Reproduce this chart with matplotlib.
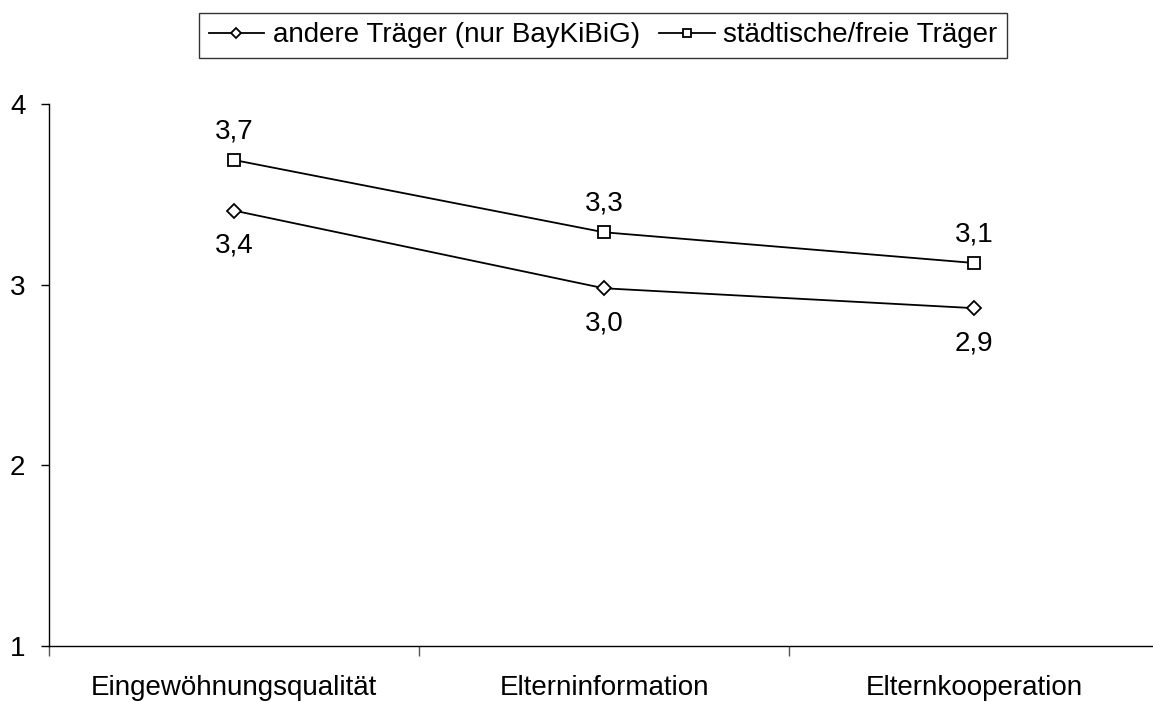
import matplotlib
matplotlib.use("Agg")
import matplotlib.pyplot as plt

categories = ["Eingewöhnungsqualität", "Elterninformation", "Elternkooperation"]
andere = [3.41, 2.98, 2.87]
staedt = [3.69, 3.29, 3.12]
andere_labels = ["3,4", "3,0", "2,9"]
staedt_labels = ["3,7", "3,3", "3,1"]
yticks = [1, 2, 3, 4]

plt.rcParams['font.family'] = ['Liberation Sans', 'DejaVu Sans']

W, H = 1153, 702
FS = 20
fig = plt.figure(figsize=(W/100, H/100), dpi=100)
left = 49 / W
right_px = 1159
ax = fig.add_axes([left, (H-646)/H, (right_px-49)/W, (646-104)/H])

x = [0, 1, 2]
l1, = ax.plot(x, andere, color='black', lw=1.3, marker='D', markersize=7,
              markerfacecolor='white', markeredgecolor='black', markeredgewidth=1.3,
              label='andere Träger (nur BayKiBiG)')
l2, = ax.plot(x, staedt, color='black', lw=1.3, marker='s', markersize=8,
              markerfacecolor='white', markeredgecolor='black', markeredgewidth=1.3,
              label='städtische/freie Träger')

for xi, v, t in zip(x, staedt, staedt_labels):
    ax.annotate(t, (xi, v), xytext=(0, 11), textcoords='offset points',
                ha='center', va='bottom', fontsize=FS)
for xi, v, t in zip(x, andere, andere_labels):
    ax.annotate(t, (xi, v), xytext=(0, -16), textcoords='offset points',
                ha='center', va='top', fontsize=FS)

ax.set_xlim(-0.5, 2.5)
ax.set_ylim(1, 4)
ax.set_yticks(yticks)
ax.set_yticklabels([str(v) for v in yticks], fontsize=FS)
ax.set_xticks([-0.5, 0.5, 1.5, 2.5])
ax.set_xticklabels([])
ax.set_xticks(x, minor=True)
ax.set_xticklabels(categories, minor=True, fontsize=FS)
ax.tick_params(axis='x', which='minor', length=0, pad=21)
ax.tick_params(axis='x', which='major', length=7, width=1, color='#555555', direction='out')
ax.tick_params(axis='y', length=6, width=1, direction='out', pad=11)
for s in ['top', 'right']:
    ax.spines[s].set_visible(False)
for s in ['left', 'bottom']:
    ax.spines[s].set_linewidth(1)

leg = fig.legend(handles=[l1, l2], loc='center', bbox_to_anchor=(603/W, 1-35.5/H),
                 ncol=2, frameon=True, fontsize=FS, fancybox=False, edgecolor='black',
                 handlelength=2.0, handletextpad=0.3, columnspacing=0.7,
                 borderpad=0.35, borderaxespad=0, markerscale=0.7)
leg.get_frame().set_linewidth(1)

fig.savefig("out.png", dpi=100)
